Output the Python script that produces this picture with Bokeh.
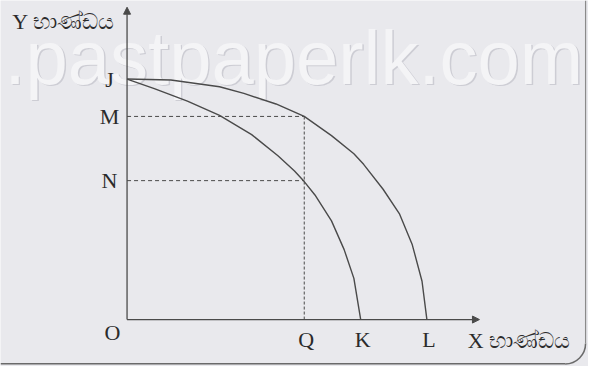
import math
from bokeh.plotting import figure
from bokeh.models import Arrow, NormalHead, Range1d
from bokeh.core.properties import value
from bokeh.embed import file_html
from bokeh.resources import INLINE

# ---- data (arbitrary units) ----
y_labels = ["J", "M", "N"]
y_values = [251, 212, 145]
x_labels = ["Q", "K", "L"]
x_values = [182, 240, 308]

outer_x = [0, 45, 95, 120, 153, 182, 210, 233, 243, 263, 280, 293, 303, 308]
outer_y = [251, 250, 243, 236, 225, 212, 192, 173, 162, 136, 110, 78, 40, 0]

inner_x = [0, 28, 62, 95, 128, 155, 172, 182, 193, 210, 223, 233, 240]
inner_y = [251, 241, 228, 213, 193, 171, 155, 144, 130, 103, 73, 43, 0]

x_axis_end = 362
y_axis_end = 326
axis_titles = ["Y භාණ්ඩය", "X භාණ්ඩය"]
watermark = ".pastpaperlk.com"

BG = "#e9e9ed"
INK = "#4a4a4a"
TXT = "#2b2b2b"
SERIF = value("Liberation Serif")

p = figure(width=588, height=366, output_backend="svg", toolbar_location=None,
           x_range=Range1d(-130, 474), y_range=Range1d(-49, 333),
           min_border=0, background_fill_color=BG, border_fill_color=BG,
           outline_line_color=None)
p.axis.visible = False
p.grid.visible = False

# watermark (embossed look)
p.text(x=[-124.5], y=[272.5], text=[watermark], text_font=value("Liberation Sans"),
       text_font_size="76px", text_color="#cdcdd4", text_baseline="middle")
p.text(x=[-126], y=[274], text=[watermark], text_font=value("Liberation Sans"),
       text_font_size="76px", text_color="#f4f4f6", text_baseline="middle")

# page frame
p.line([-130, 450], [-46, -46], line_color="#6a6a6a", line_width=1.5)
p.arc(x=[450], y=[-25], radius=21, start_angle=-math.pi / 2, end_angle=0,
      line_color="#6a6a6a", line_width=1.5)
p.line([471, 471], [-25, 333], line_color="#8a8a8a", line_width=1.2)

# axes with arrows
p.add_layout(Arrow(x_start=0, y_start=0, x_end=x_axis_end, y_end=0, line_color=INK,
                   line_width=1.3, end=NormalHead(size=7, fill_color=INK, line_color=INK)))
p.add_layout(Arrow(x_start=0, y_start=0, x_end=0, y_end=y_axis_end, line_color=INK,
                   line_width=1.3, end=NormalHead(size=7, fill_color=INK, line_color=INK)))

# dashed guides
q = x_values[0]
p.line([0, q], [y_values[1], y_values[1]], line_color=INK, line_width=1, line_dash="4 3")
p.line([0, q], [y_values[2], y_values[2]], line_color=INK, line_width=1, line_dash="4 3")
p.line([q, q], [0, y_values[1]], line_color=INK, line_width=1, line_dash="3 2")

# curves
p.line(outer_x, outer_y, line_color=INK, line_width=1.4)
p.line(inner_x, inner_y, line_color=INK, line_width=1.4)

# labels
p.text(x=[-18] * 3, y=y_values, text=y_labels, text_font=SERIF, text_font_size="22px",
       text_color=TXT, text_align="center", text_baseline="middle")
p.text(x=[v + 2 for v in x_values], y=[-21] * 3, text=x_labels, text_font=SERIF,
       text_font_size="22px", text_color=TXT, text_align="center", text_baseline="middle")
p.text(x=[-15], y=[-14], text=["O"], text_font=SERIF, text_font_size="22px",
       text_color=TXT, text_align="center", text_baseline="middle")

p.text(x=[-118], y=[311], text=[axis_titles[0]], text_font=SERIF, text_font_size="22px",
       text_color=TXT, text_align="left", text_baseline="middle")
p.text(x=[350], y=[-22], text=[axis_titles[1]], text_font=SERIF, text_font_size="22px",
       text_color=TXT, text_align="left", text_baseline="middle")

open("out.html", "w").write(file_html(p, INLINE))
